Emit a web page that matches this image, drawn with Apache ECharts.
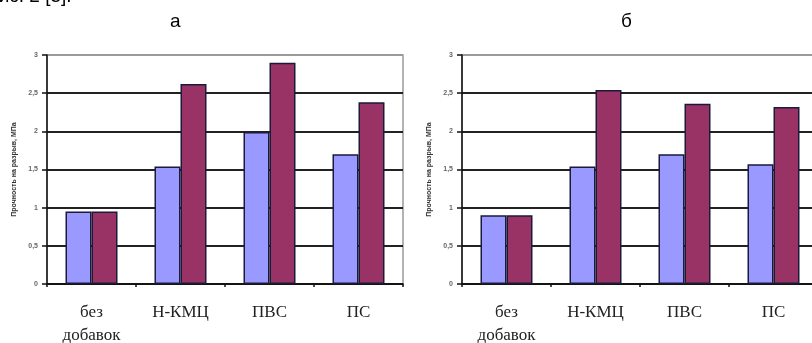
<!DOCTYPE html>
<html><head><meta charset="utf-8">
<script src="https://cdn.jsdelivr.net/npm/echarts@6/dist/echarts.min.js"></script>
<style>html,body{margin:0;padding:0;background:#fff}#c{width:812px;height:343px}</style>
</head><body><div id="c"></div>
<script>
const categories = ['без\nдобавок', 'Н-КМЦ', 'ПВС', 'ПС'];
const panelA_blue = [0.95, 1.54, 1.99, 1.70];
const panelA_red  = [0.95, 2.62, 2.90, 2.38];
const panelB_blue = [0.90, 1.54, 1.70, 1.57];
const panelB_red  = [0.90, 2.54, 2.36, 2.32];
const panelTitles = ['а', 'б'];
const yTitle = 'Прочность на разрыв, МПа';

const chart = echarts.init(document.getElementById('c'), null, {renderer: 'canvas'});
const grids = [
  {left: 47, top: 55, width: 356, height: 229, outerBoundsMode: 'none', containLabel: false, show: true, borderColor: '#9a9a9a', borderWidth: 1.5, backgroundColor: '#fff'},
  {left: 462, top: 55, width: 356, height: 229, outerBoundsMode: 'none', containLabel: false, show: true, borderColor: '#9a9a9a', borderWidth: 1.5, backgroundColor: '#fff'}
];
function xAxis(i) {
  return {
    type: 'category', gridIndex: i, data: categories,
    axisLine: {lineStyle: {color: '#111', width: 1.5}},
    axisTick: {show: true, length: 3, lineStyle: {color: '#111', width: 1.5}},
    axisLabel: {fontFamily: 'Liberation Serif', fontSize: 17, color: '#222', lineHeight: 23, margin: 17}
  };
}
function yAxis(i) {
  return {
    type: 'value', gridIndex: i, min: 0, max: 3, interval: 0.5,
    name: yTitle, nameLocation: 'middle', nameRotate: 90, nameGap: 29,
    nameTextStyle: {fontFamily: 'Liberation Sans', fontSize: 7, fontWeight: 'bold', color: '#333'},
    axisLine: {show: true, lineStyle: {color: '#111', width: 1.5}},
    axisTick: {show: true, length: 5, lineStyle: {color: '#111', width: 1.5}},
    axisLabel: {fontFamily: 'Liberation Sans', fontSize: 7, fontWeight: 'bold', color: '#666', margin: 9,
      formatter: v => String(v).replace('.', ',')},
    splitLine: {show: true, lineStyle: {color: ['#222','#222','#222','#222','#222','#222','#9a9a9a'], width: 2}}
  };
}
function bar(data, color, i) {
  return {
    type: 'bar', xAxisIndex: i, yAxisIndex: i, data: data, barWidth: 26, barGap: '0%',
    itemStyle: {color: color, borderColor: '#1a1a3a', borderWidth: 1.5}
  };
}
chart.setOption({
  animation: false,
  grid: grids,
  xAxis: [xAxis(0), xAxis(1)],
  yAxis: [yAxis(0), yAxis(1)],
  series: [
    bar(panelA_blue, '#9999ff', 0), bar(panelA_red, '#993366', 0),
    bar(panelB_blue, '#9999ff', 1), bar(panelB_red, '#993366', 1)
  ],
  graphic: [
    {type: 'text', left: 170, top: 12, style: {text: panelTitles[0], font: '19px "Liberation Sans"', fill: '#000'}},
    {type: 'text', left: 621, top: 12, style: {text: panelTitles[1], font: '19px "Liberation Sans"', fill: '#000'}},
    {type: 'text', left: -14, top: -13, style: {text: 'Рис. 2 [5].', font: '19px "Liberation Sans"', fill: '#000'}}
  ]
});
</script></body></html>
